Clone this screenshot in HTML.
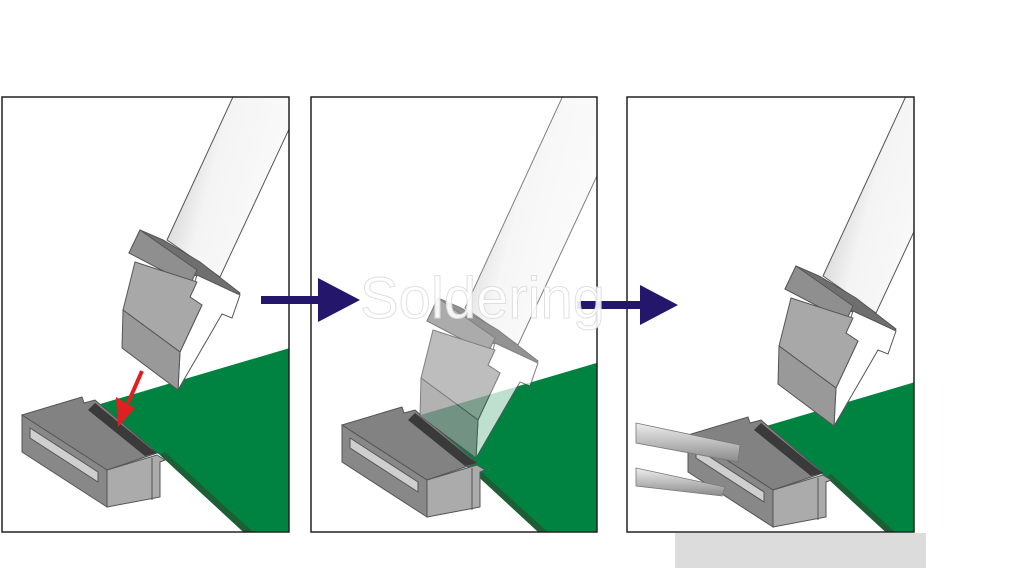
<!DOCTYPE html>
<html><head><style>html,body{margin:0;padding:0;background:#fff;}svg{display:block}</style></head>
<body>
<svg width="1024" height="582" viewBox="0 0 1024 582" xmlns="http://www.w3.org/2000/svg" font-family="Liberation Sans, sans-serif">
<defs>
<linearGradient id="tg" x1="0" y1="0" x2="1" y2="0.45">
<stop offset="0" stop-color="#9a9a9a"/><stop offset="0.45" stop-color="#f4f4f4"/><stop offset="1" stop-color="#ffffff"/>
</linearGradient>
<linearGradient id="tw" x1="0" y1="0" x2="0" y2="1">
<stop offset="0" stop-color="#eeeeee"/><stop offset="0.5" stop-color="#bdbdbd"/><stop offset="1" stop-color="#8a8a8a"/>
</linearGradient>
<clipPath id="c1"><rect x="2" y="97" width="287" height="435"/></clipPath>
<clipPath id="c2"><rect x="311" y="97" width="286" height="435"/></clipPath>
<clipPath id="c3"><rect x="627" y="97" width="287" height="435"/></clipPath>
<g id="pcb">
<polygon points="90,407 300,345 300,540 252,540 160,455" fill="#008241"/>
<polygon points="160,455 252,540 262,540 165,452" fill="#1d5e35"/>
</g>
<g id="conn" stroke="#555" stroke-width="1">
<polygon points="22,415 82,397 84,403 95,400 157,453 107,470" fill="#828282"/>
<polygon points="95,403 150,448 157,453 145,456 88,410" fill="#3a3a3a" stroke="none"/>
<polygon points="22,415 107,470 107,507 22,452" fill="#888"/>
<polygon points="30,428 98,472 98,482 30,438" fill="#cfcfcf"/>
<polygon points="107,470 157,455 165,460 160,462 160,497 107,507" fill="#ababab"/>
<line x1="152" y1="458" x2="152" y2="500"/>
</g>
<g id="tool" stroke="#555" stroke-width="1">
<polygon points="167,240 310,-70 368,-40 220,277" fill="url(#tg)"/>
<polygon points="140,230 163,240 200,262 218,276 240,293 235,300 197,276 129,253" fill="#6f6f6f"/>
<polygon points="140,230 129,253 190,285 197,270" fill="#8f8f8f"/>
<polygon points="197,275 240,295 232,318 222,314 178,390 180,352 202,305 190,297" fill="#fff"/>
<polygon points="135,262 197,282 190,297 202,305 180,352 123,310" fill="#a8a8a8"/>
<polygon points="123,310 122,348 178,390 180,352" fill="#999"/>
</g>
</defs>
<rect x="0" y="0" width="1024" height="582" fill="#fff"/>
<g clip-path="url(#c1)">
<use href="#pcb"/>
<use href="#conn"/>
<use href="#tool"/>
<line x1="142" y1="371" x2="128" y2="403" stroke="#e02020" stroke-width="4"/>
<polygon points="116,397 135,408 118,427" fill="#e02020"/>
</g>
<rect x="2" y="97" width="287" height="435" fill="none" stroke="#222" stroke-width="1.5"/>
<g clip-path="url(#c2)">
<use href="#pcb" transform="translate(310,14)"/>
<use href="#conn" transform="translate(320,10)"/>
<use href="#tool" transform="translate(298,68)" opacity="0.75"/>
</g>
<rect x="311" y="97" width="286" height="435" fill="none" stroke="#222" stroke-width="1.5"/>
<g clip-path="url(#c3)">
<use href="#pcb" transform="translate(666,22)"/>
<use href="#conn" transform="translate(666,20)"/>
<polygon points="636,423 740,445 738,462 636,443" fill="url(#tw)" stroke="#777" stroke-width="0.8"/>
<polygon points="636,468 725,487 722,496 636,486" fill="url(#tw)" stroke="#777" stroke-width="0.8"/>
<use href="#tool" transform="translate(656,36)"/>
</g>
<rect x="627" y="97" width="287" height="435" fill="none" stroke="#222" stroke-width="1.5"/>
<rect x="675" y="533" width="251" height="35" fill="#dcdcdc"/>
<rect x="261" y="296" width="60" height="8" fill="#24166b"/>
<polygon points="318,278 360,300 318,322" fill="#24166b"/>
<rect x="577" y="301" width="65" height="8" fill="#24166b"/>
<polygon points="640,285 678,305 640,325" fill="#24166b"/>
<text x="360" y="318" font-size="58" fill="#fff" stroke="#dddddd" stroke-width="1" opacity="0.9">Soldering</text>
</svg>
</body></html>
